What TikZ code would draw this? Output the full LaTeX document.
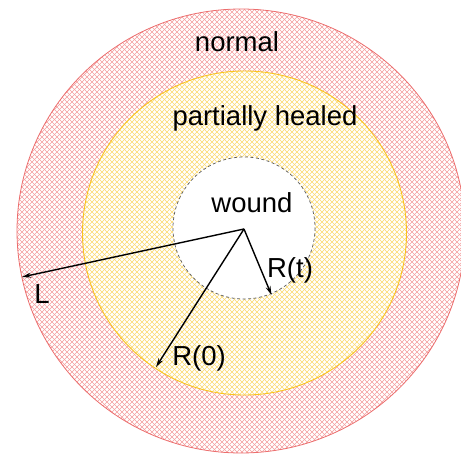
\documentclass[tikz,border=0pt]{standalone}
\usepackage{fontspec}
\setmainfont{Liberation Sans}
\usetikzlibrary{arrows.meta}
\definecolor{hatchred}{RGB}{245,158,158}
\definecolor{edgered}{RGB}{236,110,110}
\definecolor{hatchyel}{RGB}{252,218,110}
\definecolor{edgeyel}{RGB}{250,196,30}
\definecolor{woundedge}{RGB}{90,90,90}
\tikzset{
  lbl/.style={font=\fontsize{27.5}{32}\selectfont, inner sep=0pt},
  radarrow/.style={line width=1.4pt, -{Stealth[length=9pt,width=5pt]}},
  hatchline/.style={line width=0.65pt}
}
\newcommand{\crosshatch}[1]{%
  \foreach \k in {-460,-455,...,465} {
    \draw[hatchline,#1] (\k,0) -- ++(454,454);
    \draw[hatchline,#1] (\k,454) -- ++(454,-454);
  }}
\begin{document}
\begin{tikzpicture}[x=1pt,y=-1pt]
\useasboundingbox (0,0) rectangle (461,454);
% outer normal zone
\fill[white] (241,231) ellipse [x radius=224, y radius=222];
\begin{scope}
  \clip (241,231) ellipse [x radius=224, y radius=222];
  \crosshatch{hatchred}
\end{scope}
\draw[edgered, line width=0.8pt] (241,231) ellipse [x radius=224, y radius=222];
% partially healed zone
\fill[white] (244.5,233) circle [radius=162];
\begin{scope}
  \clip (244.5,233) circle [radius=162];
  \crosshatch{hatchyel}
\end{scope}
\draw[edgeyel, line width=0.9pt] (244.5,233) circle [radius=162];
% wound
\fill[white] (244,228) circle [radius=71];
\draw[woundedge, line width=0.7pt, dash pattern=on 3pt off 2.5pt] (244,228) circle [radius=71];
% labels
\node[lbl] (normal) at (237,42) {normal};
\node[lbl] (healed) at (265,118) {partially healed};
\node[lbl] (wound) at (252,203) {wound};
% arrows
\coordinate (c) at (244,229);
\coordinate (tipL) at (22,277);
\coordinate (tipT) at (271.5,295);
\coordinate (tip0) at (156,367);
\draw[radarrow] (c) -- (tipL);
\draw[radarrow] (c) -- (tipT);
\draw[radarrow] (c) -- (tip0);
\node[lbl] (L) at (42,294) {L};
\node[lbl] (Rt) at (290,270) {R(t)};
\node[lbl] (R0) at (199,358) {R(0)};
\end{tikzpicture}
\end{document}
